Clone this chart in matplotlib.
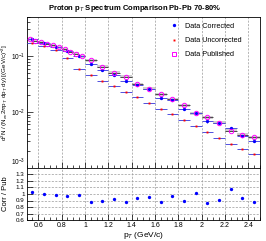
import numpy as np
import matplotlib
matplotlib.use("Agg")
import matplotlib.pyplot as plt
from matplotlib.lines import Line2D
from matplotlib.patches import Rectangle
from matplotlib.transforms import ScaledTranslation
from matplotlib.ticker import MultipleLocator, FixedLocator, NullFormatter, LogLocator

plt.rcParams['font.family'] = ['Liberation Sans', 'DejaVu Sans']
plt.rcParams['mathtext.fontset'] = 'custom'
plt.rcParams['mathtext.rm'] = 'Liberation Sans'
plt.rcParams['mathtext.it'] = 'Liberation Sans:italic'

# ---- data ----
pt = [0.55, 0.65, 0.75, 0.85, 0.95, 1.05, 1.15, 1.25, 1.35, 1.45,
      1.55, 1.65, 1.75, 1.85, 1.95, 2.05, 2.15, 2.25, 2.35, 2.45]
corrected = [0.199, 0.172, 0.148, 0.123, 0.100, 0.073, 0.0560, 0.0460, 0.0364, 0.0305,
             0.0256, 0.0177, 0.0165, 0.01145, 0.0096, 0.0068, 0.0064, 0.0052, 0.0037, 0.0031]
uncorrected = [0.170, 0.152, 0.128, 0.091, 0.059, 0.046, 0.0364, 0.0297, 0.0232, 0.0185,
               0.0145, 0.0113, 0.0093, 0.0073, 0.0057, 0.00434, 0.00345, 0.0027, 0.0022, 0.00175]
pt_pub = [0.525, 0.575, 0.625, 0.675, 0.725, 0.775, 0.825, 0.875, 0.925, 0.975,
          1.05, 1.15, 1.25, 1.35, 1.45, 1.55, 1.65, 1.75, 1.85, 1.95, 2.05, 2.15, 2.25, 2.35, 2.45]
pt_pub_halfwidth = [0.025] * 10 + [0.05] * 15
published = [0.200, 0.187, 0.177, 0.165, 0.155, 0.144, 0.133, 0.120, 0.111, 0.100,
             0.084, 0.065, 0.0505, 0.0428, 0.0318, 0.0260, 0.0209, 0.0170, 0.0131, 0.0096,
             0.0080, 0.0064, 0.00466, 0.00395, 0.00354]
ratio = [1.03, 1.00, 0.99, 0.97, 0.99, 0.88, 0.89, 0.92, 0.87, 0.94,
         0.96, 0.87, 0.97, 0.89, 1.01, 0.86, 0.91, 1.07, 0.94, 0.87]
x_ticks = [0.6, 0.8, 1.0, 1.2, 1.4, 1.6, 1.8, 2.0, 2.2, 2.4]
log_ticks = [1e-3, 1e-2, 1e-1]
log_tick_labels = [r'$10^{-3}$', r'$10^{-2}$', r'$10^{-1}$']
ratio_ticks = [0.6, 0.7, 0.8, 0.9, 1.0, 1.1, 1.2, 1.3]

pt = np.array(pt); corrected = np.array(corrected); uncorrected = np.array(uncorrected)
pt_pub = np.array(pt_pub); published = np.array(published)
pt_pub_halfwidth = np.array(pt_pub_halfwidth)

W, H = 266, 241
fig = plt.figure(figsize=(W / 100, H / 100), dpi=100)
L, R = 26.6 / W, 260 / W
ax = fig.add_axes([L, 1 - 168 / H, R - L, (168 - 17) / H])
axr = fig.add_axes([L, 1 - 220 / H, R - L, (220 - 168) / H])

blue = '#0000ff'
red = '#ff0000'
mag = '#ff00ff'
barblue = '#4f4fe0'

# systematic boxes for published
for x, hw, y in zip(pt_pub, pt_pub_halfwidth, published):
    ax.add_patch(Rectangle((x - hw, y * 0.94), 2 * hw, y * 0.12,
                           facecolor='#b0b0b0', edgecolor='none', alpha=0.6, zorder=1))

ax.errorbar(pt_pub, published, xerr=pt_pub_halfwidth, fmt='none', ecolor='#333333',
            elinewidth=0.6, zorder=2)
ax.errorbar(pt, uncorrected, xerr=0.05, fmt='s', color=red, ecolor=barblue, ms=1.4,
            mew=0, elinewidth=0.7, zorder=3)
ax.errorbar(pt, corrected, xerr=0.05, yerr=corrected * 0.05, fmt='o', color=blue,
            ecolor=barblue, ms=2.4, mew=0, elinewidth=0.7, zorder=4)
ax.plot(pt_pub, published, 'o', mfc='none', mec=mag, ms=3.2, mew=0.7, zorder=5)

ax.set_yscale('log')
ax.set_xlim(0.5, 2.5)
ax.set_ylim(1e-3, 0.5)
ax.xaxis.set_major_locator(FixedLocator(x_ticks))
ax.xaxis.set_minor_locator(MultipleLocator(0.05))
ax.xaxis.set_major_formatter(NullFormatter())
ax.set_yticks(log_ticks)
ax.set_yticklabels(log_tick_labels)
ax.yaxis.set_minor_locator(LogLocator(base=10, subs=np.arange(2, 10), numticks=20))
ax.yaxis.set_minor_formatter(NullFormatter())
ax.grid(True, axis='x', which='major', linestyle=(0, (3, 2)), color='#999999', linewidth=0.5)
ax.tick_params(which='both', direction='in', labelsize=4.7, width=0.5, pad=0.8)
ax.tick_params(which='major', length=4)
ax.tick_params(which='minor', length=2)
# lift the lowest decade label a little so it clears the ratio panel labels
low = ax.get_yticklabels()[0]
low.set_verticalalignment('bottom')
ax.set_ylabel(r'd$^2$N / (N$_{ev}$2$\pi$p$_T$ dp$_T$ dy) [(GeV/c)$^{-2}$]', fontsize=4.5)
ax.yaxis.set_label_coords((10 - 26.6) / (260 - 26.6), 0.5)

axr.plot(pt, ratio, 'o', color=blue, ms=2.4, mew=0)
axr.set_xlim(0.5, 2.5)
axr.set_ylim(0.6, 1.4)
axr.xaxis.set_major_locator(FixedLocator(x_ticks))
axr.xaxis.set_minor_locator(MultipleLocator(0.05))
axr.yaxis.set_major_locator(FixedLocator(ratio_ticks))
axr.set_yticklabels([f'{v:g}' for v in ratio_ticks])
axr.set_xticklabels([f'{v:g}' for v in x_ticks])
axr.grid(True, which='major', linestyle=(0, (3, 2)), color='#999999', linewidth=0.5)
axr.tick_params(which='both', direction='in', labelsize=5, width=0.5, pad=1.5)
axr.tick_params(axis='y', labelsize=4.5)
axr.tick_params(which='major', length=4)
axr.tick_params(which='minor', length=2)
axr.set_ylabel('Corr / Pub', fontsize=5.5)
axr.yaxis.set_label_coords((9.5 - 26.6) / (260 - 26.6), 0.5)
axr.set_xlabel(r'p$_T$ (GeV/c)', fontsize=6, labelpad=1)

for a in (ax, axr):
    for s in a.spines.values():
        s.set_linewidth(0.6)

fig.text(135 / W, 1 - 8 / H, r'Proton p$_T$ Spectrum Comparison Pb-Pb 70-80%',
         ha='center', va='center', fontsize=5.5, fontweight='bold')

handles = [
    Line2D([], [], marker='o', color=blue, ls='none', ms=2.4, mew=0),
    Line2D([], [], marker='s', color=red, ls='none', ms=1.4, mew=0),
    Line2D([], [], marker='s', mfc='none', mec=mag, ls='none', ms=3.0, mew=0.7),
]
labels = ['Data Corrected', 'Data Uncorrected', 'Data Published']
ax.legend(handles, labels, loc='upper left', bbox_to_anchor=(165 / W, 1 - 17 / H),
          bbox_transform=fig.transFigure, frameon=False, fontsize=5.2,
          handlelength=1.0, handletextpad=1.0, labelspacing=1.0, borderpad=0.3)

fig.savefig('out.png', dpi=100)
